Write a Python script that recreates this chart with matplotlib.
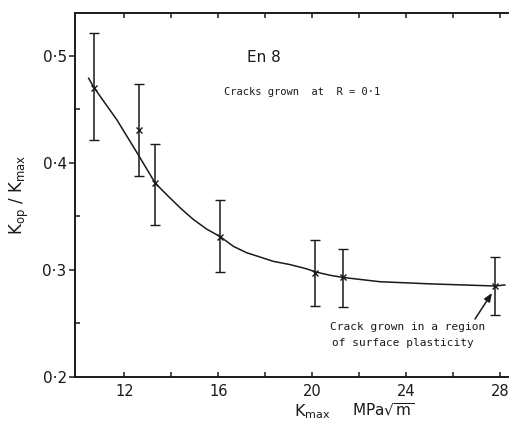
import matplotlib
matplotlib.use("Agg")
import matplotlib.pyplot as plt
from matplotlib.ticker import FixedLocator, NullFormatter

plt.rcParams['mathtext.default'] = 'regular'
plt.rcParams['font.family'] = ['DejaVu Sans']

# ---- data ----
kmax = [10.72, 12.61, 13.32, 16.09, 20.13, 21.31, 27.79]
ratio = [0.470, 0.431, 0.381, 0.331, 0.297, 0.293, 0.285]
err_hi = [0.521, 0.474, 0.418, 0.365, 0.328, 0.320, 0.312]
err_lo = [0.421, 0.388, 0.342, 0.298, 0.266, 0.265, 0.258]

curve_x = [10.48, 10.72, 11.69, 12.61, 13.32, 13.82, 14.38, 14.95, 15.52,
           16.09, 16.65, 17.22, 17.65, 18.35, 19.06, 19.77, 20.17, 20.77,
           21.31, 22.89, 25.02, 27.79, 28.21]
curve_y = [0.479, 0.470, 0.440, 0.407, 0.381, 0.370, 0.358, 0.347, 0.338,
           0.331, 0.322, 0.316, 0.313, 0.308, 0.305, 0.301, 0.298, 0.295,
           0.293, 0.289, 0.287, 0.285, 0.286]

xtick_vals = [12, 16, 20, 24, 28]
xtick_labels = ['12', '16', '20', '24', '28']
xminor_vals = [14, 18, 22, 26]
ytick_vals = [0.2, 0.3, 0.4, 0.5]
ytick_labels = ['0·2', '0·3', '0·4', '0·5']
yminor_vals = [0.25, 0.35, 0.45]

W, H = 510, 424
fig = plt.figure(figsize=(W / 100, H / 100), dpi=100)

def fx(px):
    return px / W

def fy(py):
    return 1 - py / H

ax = fig.add_axes([fx(75), fy(377), fx(510) - fx(75), fy(13) - fy(377)])
ax.set_xlim(9.9, 28.43)
ax.set_ylim(0.2, 0.540)

ink = '#1a1a1a'
ax.plot(curve_x, curve_y, color=ink, lw=1.1)
yerr = [[r - lo for r, lo in zip(ratio, err_lo)],
        [hi - r for r, hi in zip(ratio, err_hi)]]
ax.errorbar(kmax, ratio, yerr=yerr, fmt='x', color=ink, ms=4, mew=1.0,
            elinewidth=1.1, capsize=3.5, capthick=1.1)

for s in ['left', 'bottom', 'top']:
    ax.spines[s].set_linewidth(1.4)
    ax.spines[s].set_color(ink)
ax.spines['right'].set_visible(False)

ax.xaxis.set_major_locator(FixedLocator(xtick_vals))
ax.set_xticklabels(xtick_labels, fontsize=10.5, color=ink)
ax.xaxis.set_minor_locator(FixedLocator(xminor_vals))
ax.xaxis.set_minor_formatter(NullFormatter())
ax.tick_params(axis='x', which='both', direction='in', length=3.5, width=1.1,
               top=True, bottom=True, pad=5, color=ink)

ax.yaxis.set_major_locator(FixedLocator(ytick_vals))
ax.set_yticklabels(ytick_labels, fontsize=11, color=ink)
ax.yaxis.set_minor_locator(FixedLocator(yminor_vals))
ax.yaxis.set_minor_formatter(NullFormatter())
ax.tick_params(axis='y', which='major', direction='out', length=4, width=1.1,
               pad=2, color=ink)
ax.tick_params(axis='y', which='minor', direction='in', length=3.5, width=1.1,
               color=ink)

ax.set_ylabel('K$_{op}$ / K$_{max}$', fontsize=12, color=ink, labelpad=8)

fig.text(fx(312), fy(412), 'K$_{max}$', fontsize=11.5, color=ink,
         ha='center', va='center')
fig.text(fx(383), fy(410), 'MPa$\\sqrt{m}$', fontsize=11, color=ink,
         ha='center', va='center')

fig.text(fx(247), fy(57), 'En 8', fontsize=11, color=ink, ha='left', va='center')
fig.text(fx(224), fy(92), 'Cracks grown  at  R = 0·1', fontsize=7.5,
         family='DejaVu Sans Mono', color=ink, ha='left', va='center')
fig.text(fx(330), fy(327), 'Crack grown in a region', fontsize=8,
         family='DejaVu Sans Mono', color=ink, ha='left', va='center')
fig.text(fx(332), fy(343), 'of surface plasticity', fontsize=8,
         family='DejaVu Sans Mono', color=ink, ha='left', va='center')

ax.annotate('', xy=(fx(492), fy(293)), xycoords='figure fraction',
            xytext=(fx(475), fy(319)), textcoords='figure fraction',
            arrowprops=dict(arrowstyle='-|>,head_length=0.5,head_width=0.2',
                            color=ink, lw=1.1, shrinkA=0, shrinkB=0))

fig.savefig('out.png', dpi=100)
